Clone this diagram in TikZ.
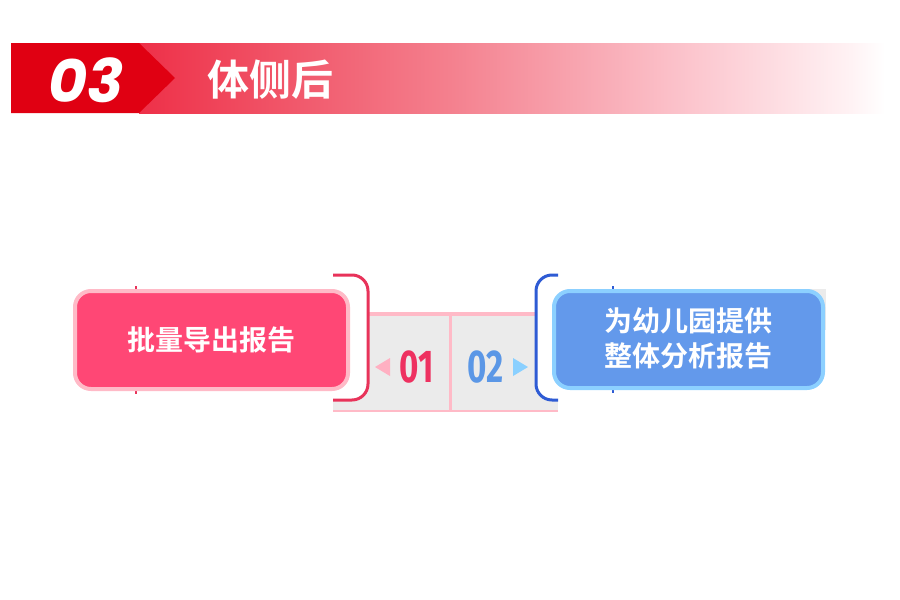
\documentclass[tikz,border=0pt]{standalone}
\usepackage{fontspec}
\usepackage{graphicx}
\newfontfamily\cjk{Noto Sans CJK SC}[BoldFont={Noto Sans CJK SC Bold}]
\newfontfamily\pop{Poppins}
\newfontfamily\fira{Fira Sans}
\definecolor{hdrred}{HTML}{E00012}
\definecolor{g1}{HTML}{EE3048}
\definecolor{g2}{HTML}{F4808E}
\definecolor{g3}{HTML}{FCC8D0}
\definecolor{g4}{HTML}{FFF2F4}
\definecolor{pinkfill}{HTML}{FF4775}
\definecolor{pinkedge}{HTML}{FFBAC7}
\definecolor{redbr}{HTML}{E8335A}
\definecolor{bluefill}{HTML}{6399EB}
\definecolor{blueedge}{HTML}{8CD0FF}
\definecolor{bluebr}{HTML}{2E5BD4}
\definecolor{panelgray}{HTML}{EBEBEB}
\definecolor{numred}{HTML}{EE3160}
\definecolor{numblue}{HTML}{5B97E6}
\definecolor{tripink}{HTML}{FFB0C2}
\definecolor{triblue}{HTML}{8AD0FF}
\pgfdeclarehorizontalshading{hdrshade}{100bp}{color(0bp)=(g1); color(25bp)=(g1); color(45.8bp)=(g2); color(62.6bp)=(g3); color(72.7bp)=(g4); color(75bp)=(white); color(100bp)=(white)}
\tikzset{
  txt/.style={inner sep=0pt, text=white},
  cjktxt/.style={txt, font=\cjk\bfseries\fontsize{28}{35}\selectfont},
  boxL/.style={fill=pinkfill, draw=pinkedge, line width=4pt, rounded corners=16pt},
  boxR/.style={fill=bluefill, draw=blueedge, line width=4pt, rounded corners=16pt},
  brk/.style={line width=3pt, rounded corners=16pt},
  tick/.style={line width=1.5pt},
  numtxt/.style={inner sep=0pt, anchor=base, font=\fira\bfseries\fontsize{46}{46}\selectfont},
}
\begin{document}
\begin{tikzpicture}[x=1pt,y=-1pt]
\useasboundingbox (0,0) rectangle (900,600);
% header
\fill[shading=hdrshade] (139,43) rectangle (885,113);
\fill[hdrred] (11,43) -- (139,43) -- (175,78) -- (139,113) -- (11,113) -- cycle;
\node[txt, anchor=base, font=\pop\bfseries\itshape\fontsize{60}{60}\selectfont] (num) at (86,102) {03};
\node[txt, font=\cjk\bfseries\fontsize{42}{42}\selectfont] (title) at (270,80) {体侧后};
% gray panel
\fill[panelgray] (333,312) rectangle (558,412);
\fill[panelgray] (790,289) rectangle (826,330);
\draw[pinkedge, line width=4pt] (368,314) -- (536,314);
\draw[pinkedge, line width=3pt] (450,316) -- (450,412);
\draw[pinkedge, line width=1.5pt] (333,411) -- (558,411);
% brackets
\fill[white, rounded corners=16pt] (300,275) -- (368,275) -- (368,400) -- (300,400) -- cycle;
\fill[white, rounded corners=16pt] (590,275) -- (536,275) -- (536,400) -- (590,400) -- cycle;
\draw[redbr, brk] (333,275) -- (368,275) -- (368,400) -- (333,400);
\draw[bluebr, brk] (558,275) -- (536,275) -- (536,400) -- (558,400);
% ticks
\draw[redbr, tick] (136,286) -- (136,290);
\draw[redbr, tick] (136,390) -- (136,394);
\draw[bluebr, tick] (613,286) -- (613,290);
\draw[bluebr, tick] (613,389) -- (613,393);
% boxes
\node[boxL, minimum width=273pt, minimum height=98pt, anchor=center] (left) at (211.5,340) {};
\node[cjktxt] (lefttxt) at (left.center) {批量导出报告};
\node[boxR, minimum width=269pt, minimum height=97pt, anchor=center] (right) at (688.5,339.5) {};
\node[cjktxt, align=center] (righttxt) at ([yshift=1pt]right.center) {为幼儿园提供\\整体分析报告};
% numbers
\node[numtxt, text=numred] (n1) at (416.5,382) {\scalebox{0.72}[1]{01}};
\node[numtxt, text=numblue] (n2) at (486,382) {\scalebox{0.72}[1]{02}};
\fill[tripink] (375,367) -- (390,358) -- (390,376) -- cycle;
\fill[triblue] (528,367) -- (513,358) -- (513,376) -- cycle;
\end{tikzpicture}
\end{document}
